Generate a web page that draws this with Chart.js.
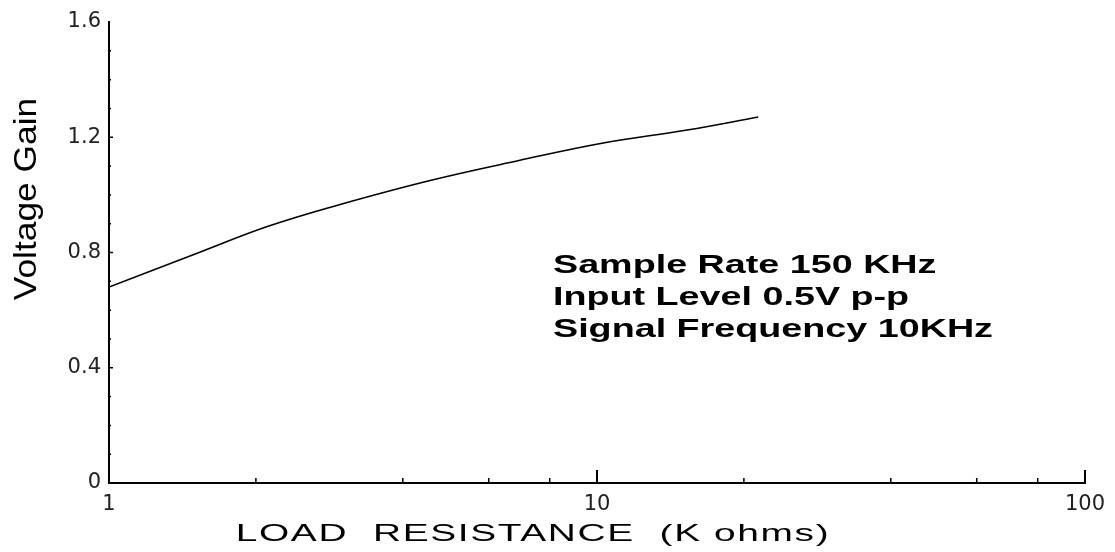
<!DOCTYPE html>
<html>
<head>
<meta charset="utf-8">
<script src="https://cdn.jsdelivr.net/npm/chart.js@4"></script>
<style>
  html, body { margin: 0; padding: 0; background: #fff; }
  #wrap { width: 1115px; height: 552px; }
</style>
</head>
<body>
<div id="wrap"><canvas id="chart" width="1115" height="552"></canvas></div>
<script>
// Daten
const loadResistance = [1, 1.53, 2.11, 2.88, 4.55, 6.95, 10.3, 15.3, 21.4]; // K ohms
const voltageGain = [0.68, 0.80, 0.89, 0.96, 1.05, 1.12, 1.18, 1.225, 1.27];
const xMajorTicks = [1, 10, 100];
const xMinorTicks = [2, 4, 6, 8, 20, 40, 60, 80];
const yTickLabels = [0, 0.4, 0.8, 1.2, 1.6];
const noteLines = ['Sample Rate 150 KHz', 'Input Level 0.5V p-p', 'Signal Frequency 10KHz'];

const points = loadResistance.map((r, i) => ({ x: r, y: voltageGain[i] }));

// Text horizontal gestreckt zeichnen (Scan-Optik)
function drawStretched(ctx, text, x, y, font, sx, align) {
    ctx.save();
    ctx.font = font;
    ctx.textAlign = 'left';
    const w = ctx.measureText(text).width * sx;
    let left = x;
    if (align === 'center') left = x - w / 2;
    ctx.translate(left, y);
    ctx.scale(sx, 1);
    ctx.fillText(text, 0, 0);
    ctx.restore();
}

// Nach innen zeigende Teilstriche, Achsentitel und Anmerkung
const decorPlugin = {
    id: 'decor',
    afterDraw(chart) {
        const ctx = chart.ctx;
        const xs = chart.scales.x;
        const ys = chart.scales.y;
        const bottom = chart.chartArea.bottom;
        const left = chart.chartArea.left;

        ctx.save();
        ctx.strokeStyle = '#000';
        ctx.lineWidth = 2;
        ctx.beginPath();
        xMajorTicks.forEach(v => {
            const px = xs.getPixelForValue(v);
            ctx.moveTo(px, bottom);
            ctx.lineTo(px, bottom - 13);
        });
        ctx.stroke();
        ctx.lineWidth = 1.5;
        ctx.beginPath();
        xMinorTicks.forEach(v => {
            const px = xs.getPixelForValue(v);
            ctx.moveTo(px, bottom);
            ctx.lineTo(px, bottom - 5);
        });
        ctx.stroke();
        ctx.beginPath();
        for (let k = 1; k < 16; k++) {
            const py = ys.getPixelForValue(k / 10);
            ctx.moveTo(left, py);
            ctx.lineTo(left + (k % 4 === 0 ? 4 : 2), py);
        }
        ctx.stroke();

        ctx.fillStyle = '#000';
        ctx.textBaseline = 'alphabetic';

        // y-Achsentitel
        ctx.save();
        ctx.translate(36, 199);
        ctx.rotate(-Math.PI / 2);
        drawStretched(ctx, 'Voltage Gain', 0, 0, '31px "Liberation Sans", Arial, sans-serif', 1.14, 'center');
        ctx.restore();

        // x-Achsentitel
        ctx.save();
        ctx.letterSpacing = '1px';
        drawStretched(ctx, 'LOAD  RESISTANCE  (K ohms)', 533, 541, '24px "Liberation Sans", Arial, sans-serif', 1.62, 'center');
        ctx.restore();

        // Anmerkung
        noteLines.forEach((line, i) => {
            drawStretched(ctx, line, 553, 273 + i * 32, 'bold 26px "Liberation Sans", Arial, sans-serif', 1.45, 'left');
        });
        ctx.restore();
    }
};

new Chart(document.getElementById('chart'), {
    type: 'line',
    data: {
        datasets: [{
            label: 'Voltage Gain',
            data: points,
            borderColor: '#000',
            borderWidth: 1.6,
            pointRadius: 0,
            tension: 0.4,
            fill: false
        }]
    },
    options: {
        responsive: false,
        animation: false,
        layout: { autoPadding: false, padding: { top: 22, right: 30, left: 0, bottom: 0 } },
        plugins: {
            legend: { display: false },
            tooltip: { enabled: false }
        },
        scales: {
            x: {
                type: 'logarithmic',
                min: 1,
                max: 100,
                afterBuildTicks: scale => {
                    scale.ticks = xMajorTicks.map(v => ({ value: v }));
                },
                afterFit: scale => { scale.height = 69; },
                grid: { display: false },
                border: { display: true, color: '#000', width: 2 },
                ticks: {
                    color: '#222',
                    padding: 1,
                    maxRotation: 0,
                    autoSkip: false,
                    font: { family: '"DejaVu Sans", sans-serif', size: 21 },
                    callback: v => String(v)
                }
            },
            y: {
                min: 0,
                max: 1.6,
                afterBuildTicks: scale => {
                    scale.ticks = yTickLabels.map(v => ({ value: v }));
                },
                afterFit: scale => { scale.width = 109; },
                grid: { display: false },
                border: { display: true, color: '#000', width: 2 },
                ticks: {
                    color: '#222',
                    padding: 0,
                    font: { family: '"DejaVu Sans", sans-serif', size: 21 },
                    callback: v => (v === 0 ? '0' : v.toFixed(1))
                }
            }
        }
    },
    plugins: [decorPlugin]
});
</script>
</body>
</html>
